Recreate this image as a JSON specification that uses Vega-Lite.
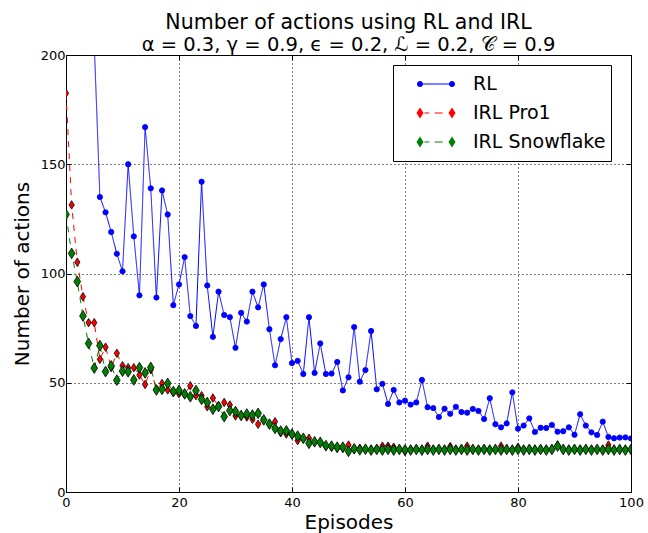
{
"$schema": "https://vega.github.io/schema/vega-lite/v6.json",
"width": 565, "height": 437,
"autosize": {"type": "none"},
"padding": {"left": 66, "top": 55, "right": 17, "bottom": 41},
"background": "white",
"config": {"font": "DejaVu Sans", "view": {"stroke": "black", "strokeWidth": 1}},
"title": {"text": "Number of actions using RL and IRL", "subtitle": "α = 0.3, γ = 0.9, ϵ = 0.2, ℒ = 0.2, 𝒞 = 0.9", "fontSize": 20.5, "subtitleFontSize": 19.5, "fontWeight": "normal", "color": "black", "subtitleColor": "black", "anchor": "middle", "offset": -5, "subtitlePadding": 2},
"data": {"values": [
{"e":0,"RL":600,"IRL Pro1":182.5,"IRL Snowflake":127},
{"e":1,"RL":500,"IRL Pro1":131.4,"IRL Snowflake":109.2},
{"e":2,"RL":420,"IRL Pro1":105.2,"IRL Snowflake":96.3},
{"e":3,"RL":350,"IRL Pro1":89.4,"IRL Snowflake":80.6},
{"e":4,"RL":280,"IRL Pro1":77.5,"IRL Snowflake":68},
{"e":5,"RL":205,"IRL Pro1":77.5,"IRL Snowflake":56.7},
{"e":6,"RL":135,"IRL Pro1":60.7,"IRL Snowflake":67},
{"e":7,"RL":128,"IRL Pro1":66.3,"IRL Snowflake":55.1},
{"e":8,"RL":119,"IRL Pro1":57,"IRL Snowflake":57.7},
{"e":9,"RL":109,"IRL Pro1":63.5,"IRL Snowflake":51.2},
{"e":10,"RL":101,"IRL Pro1":57.8,"IRL Snowflake":55.3},
{"e":11,"RL":150,"IRL Pro1":56.9,"IRL Snowflake":55},
{"e":12,"RL":117,"IRL Pro1":56.9,"IRL Snowflake":51.3},
{"e":13,"RL":90,"IRL Pro1":53.5,"IRL Snowflake":56.9},
{"e":14,"RL":167,"IRL Pro1":49.2,"IRL Snowflake":54.5},
{"e":15,"RL":139,"IRL Pro1":56,"IRL Snowflake":57},
{"e":16,"RL":89,"IRL Pro1":47,"IRL Snowflake":46.7},
{"e":17,"RL":138,"IRL Pro1":49.7,"IRL Snowflake":47},
{"e":18,"RL":127,"IRL Pro1":46.7,"IRL Snowflake":49.7},
{"e":19,"RL":85.5,"IRL Pro1":45.5,"IRL Snowflake":46},
{"e":20,"RL":95,"IRL Pro1":45,"IRL Snowflake":46.5},
{"e":21,"RL":107.5,"IRL Pro1":44.8,"IRL Snowflake":44.9},
{"e":22,"RL":80.5,"IRL Pro1":48.6,"IRL Snowflake":43.6},
{"e":23,"RL":76,"IRL Pro1":44.1,"IRL Snowflake":46.4},
{"e":24,"RL":142,"IRL Pro1":44.1,"IRL Snowflake":42.4},
{"e":25,"RL":94.5,"IRL Pro1":39,"IRL Snowflake":41},
{"e":26,"RL":71,"IRL Pro1":43,"IRL Snowflake":37.9},
{"e":27,"RL":91.7,"IRL Pro1":39.5,"IRL Snowflake":39.1},
{"e":28,"RL":81,"IRL Pro1":41,"IRL Snowflake":34.5},
{"e":29,"RL":80,"IRL Pro1":39.8,"IRL Snowflake":37.3},
{"e":30,"RL":66,"IRL Pro1":34.8,"IRL Snowflake":36.8},
{"e":31,"RL":82,"IRL Pro1":35,"IRL Snowflake":35},
{"e":32,"RL":78,"IRL Pro1":34.3,"IRL Snowflake":35.7},
{"e":33,"RL":91.7,"IRL Pro1":33.3,"IRL Snowflake":35.2},
{"e":34,"RL":84.5,"IRL Pro1":31,"IRL Snowflake":36},
{"e":35,"RL":95,"IRL Pro1":33,"IRL Snowflake":33},
{"e":36,"RL":74.5,"IRL Pro1":31,"IRL Snowflake":31.1},
{"e":37,"RL":58,"IRL Pro1":32.2,"IRL Snowflake":29.1},
{"e":38,"RL":70,"IRL Pro1":27.1,"IRL Snowflake":27.9},
{"e":39,"RL":80,"IRL Pro1":26.5,"IRL Snowflake":28},
{"e":40,"RL":59,"IRL Pro1":26.3,"IRL Snowflake":26.5},
{"e":41,"RL":60,"IRL Pro1":23.5,"IRL Snowflake":25.6},
{"e":42,"RL":54,"IRL Pro1":24.3,"IRL Snowflake":24.6},
{"e":43,"RL":80,"IRL Pro1":24.6,"IRL Snowflake":22.3},
{"e":44,"RL":54.5,"IRL Pro1":22.8,"IRL Snowflake":23},
{"e":45,"RL":68,"IRL Pro1":22.5,"IRL Snowflake":22.7},
{"e":46,"RL":54,"IRL Pro1":21,"IRL Snowflake":21.2},
{"e":47,"RL":54.2,"IRL Pro1":20.5,"IRL Snowflake":21},
{"e":48,"RL":59.5,"IRL Pro1":20,"IRL Snowflake":20.5},
{"e":49,"RL":46.5,"IRL Pro1":20,"IRL Snowflake":20.5},
{"e":50,"RL":52.5,"IRL Pro1":21.5,"IRL Snowflake":18.6},
{"e":51,"RL":75.5,"IRL Pro1":19.5,"IRL Snowflake":19.8},
{"e":52,"RL":50.5,"IRL Pro1":20,"IRL Snowflake":19.3},
{"e":53,"RL":55.8,"IRL Pro1":19.5,"IRL Snowflake":19.6},
{"e":54,"RL":73.7,"IRL Pro1":19.5,"IRL Snowflake":19.2},
{"e":55,"RL":47,"IRL Pro1":19.8,"IRL Snowflake":19.5},
{"e":56,"RL":49.5,"IRL Pro1":21,"IRL Snowflake":19.2},
{"e":57,"RL":40.3,"IRL Pro1":21,"IRL Snowflake":19.5},
{"e":58,"RL":46.7,"IRL Pro1":20.5,"IRL Snowflake":19.2},
{"e":59,"RL":41,"IRL Pro1":19.5,"IRL Snowflake":19.5},
{"e":60,"RL":41.8,"IRL Pro1":18.6,"IRL Snowflake":19.3},
{"e":61,"RL":40,"IRL Pro1":19.5,"IRL Snowflake":19.2},
{"e":62,"RL":41,"IRL Pro1":19.5,"IRL Snowflake":19.5},
{"e":63,"RL":51.3,"IRL Pro1":19.5,"IRL Snowflake":19.2},
{"e":64,"RL":38.8,"IRL Pro1":21,"IRL Snowflake":19.5},
{"e":65,"RL":38.4,"IRL Pro1":19.5,"IRL Snowflake":19.2},
{"e":66,"RL":34.3,"IRL Pro1":19.5,"IRL Snowflake":19.5},
{"e":67,"RL":38.1,"IRL Pro1":19.5,"IRL Snowflake":19.2},
{"e":68,"RL":35.8,"IRL Pro1":20.8,"IRL Snowflake":19.5},
{"e":69,"RL":39,"IRL Pro1":19.5,"IRL Snowflake":19.2},
{"e":70,"RL":36.6,"IRL Pro1":19.5,"IRL Snowflake":19.5},
{"e":71,"RL":36.3,"IRL Pro1":21,"IRL Snowflake":19.2},
{"e":72,"RL":38,"IRL Pro1":19.5,"IRL Snowflake":19.5},
{"e":73,"RL":37.1,"IRL Pro1":19.5,"IRL Snowflake":19.2},
{"e":74,"RL":33.4,"IRL Pro1":19.5,"IRL Snowflake":19.5},
{"e":75,"RL":42.9,"IRL Pro1":19.5,"IRL Snowflake":19.2},
{"e":76,"RL":31,"IRL Pro1":19.5,"IRL Snowflake":19.5},
{"e":77,"RL":29.6,"IRL Pro1":21,"IRL Snowflake":19.2},
{"e":78,"RL":31.4,"IRL Pro1":19.5,"IRL Snowflake":19.5},
{"e":79,"RL":45.6,"IRL Pro1":19.5,"IRL Snowflake":19.2},
{"e":80,"RL":29,"IRL Pro1":20.5,"IRL Snowflake":19.5},
{"e":81,"RL":30.4,"IRL Pro1":19.5,"IRL Snowflake":19.2},
{"e":82,"RL":33.7,"IRL Pro1":19.5,"IRL Snowflake":19.5},
{"e":83,"RL":27.5,"IRL Pro1":19.5,"IRL Snowflake":19.2},
{"e":84,"RL":29.4,"IRL Pro1":19.5,"IRL Snowflake":19.5},
{"e":85,"RL":29.3,"IRL Pro1":19.5,"IRL Snowflake":19.2},
{"e":86,"RL":30.7,"IRL Pro1":19.5,"IRL Snowflake":19.5},
{"e":87,"RL":27.6,"IRL Pro1":21.5,"IRL Snowflake":21},
{"e":88,"RL":27.8,"IRL Pro1":19.5,"IRL Snowflake":19.5},
{"e":89,"RL":29.6,"IRL Pro1":19.5,"IRL Snowflake":19.2},
{"e":90,"RL":26.2,"IRL Pro1":19.5,"IRL Snowflake":19.5},
{"e":91,"RL":35.6,"IRL Pro1":19.5,"IRL Snowflake":19.2},
{"e":92,"RL":30.4,"IRL Pro1":19.5,"IRL Snowflake":19.5},
{"e":93,"RL":27.3,"IRL Pro1":19.5,"IRL Snowflake":19.2},
{"e":94,"RL":26.1,"IRL Pro1":19.5,"IRL Snowflake":19.5},
{"e":95,"RL":32.2,"IRL Pro1":19.5,"IRL Snowflake":19.2},
{"e":96,"RL":25.2,"IRL Pro1":21.5,"IRL Snowflake":19.5},
{"e":97,"RL":24.6,"IRL Pro1":19.5,"IRL Snowflake":19.2},
{"e":98,"RL":24.9,"IRL Pro1":19.5,"IRL Snowflake":19.5},
{"e":99,"RL":25,"IRL Pro1":19.5,"IRL Snowflake":19.2},
{"e":100,"RL":24.5,"IRL Pro1":19.5,"IRL Snowflake":19.5}
]},
"transform": [{"fold": ["RL", "IRL Pro1", "IRL Snowflake"], "as": ["series", "v"]}],
"resolve": {"axis": {"x": "independent", "y": "independent"}, "scale": {"shape": "independent"}, "legend": {"color": "independent", "shape": "independent", "strokeDash": "independent"}},
"layer": [
{"mark": {"type": "line", "strokeWidth": 1, "clip": true},
 "encoding": {
  "x": {"field": "e", "type": "quantitative", "scale": {"domain": [0, 100], "nice": false},
        "axis": {"orient": "bottom", "values": [0, 20, 40, 60, 80, 100], "title": "Episodes", "titleFontSize": 20, "titleFontWeight": "normal", "titleColor": "black", "labelFontSize": 13, "labelColor": "black", "tickSize": -5, "tickColor": "black", "domain": false, "grid": true, "gridColor": "black", "gridDash": [1, 3], "gridOpacity": 1, "labelPadding": 9, "titlePadding": 3, "labelFlush": false}},
  "y": {"field": "v", "type": "quantitative", "scale": {"domain": [0, 200], "nice": false},
        "axis": {"orient": "left", "values": [0, 50, 100, 150, 200], "title": "Number of actions", "titleFontSize": 20, "titleFontWeight": "normal", "titleColor": "black", "labelFontSize": 13, "labelColor": "black", "tickSize": -5, "tickColor": "black", "domain": false, "grid": true, "gridColor": "black", "gridDash": [1, 3], "gridOpacity": 1, "labelPadding": 6, "titlePadding": 8, "labelFlush": false}},
  "color": {"field": "series", "type": "nominal", "scale": {"domain": ["RL", "IRL Pro1", "IRL Snowflake"], "range": ["#0000ff", "#ff0000", "#008000"]}, "legend": null},
  "strokeDash": {"field": "series", "type": "nominal", "scale": {"domain": ["RL", "IRL Pro1", "IRL Snowflake"], "range": [[1, 0], [6, 6], [6, 6]]}, "legend": null}
 }},
{"mark": {"type": "point", "filled": true, "clip": true, "strokeWidth": 0.8, "opacity": 1},
 "encoding": {
  "x": {"field": "e", "type": "quantitative", "axis": null},
  "y": {"field": "v", "type": "quantitative", "axis": null},
  "fill": {"field": "series", "type": "nominal", "scale": {"domain": ["RL", "IRL Pro1", "IRL Snowflake"], "range": ["#0000ff", "#ff0000", "#008000"]}, "legend": null},
  "stroke": {"field": "series", "type": "nominal", "scale": {"domain": ["RL", "IRL Pro1", "IRL Snowflake"], "range": ["#0000ff", "#000000", "#000000"]}, "legend": null},
  "shape": {"field": "series", "type": "nominal", "scale": {"domain": ["RL", "IRL Pro1", "IRL Snowflake"], "range": ["circle", "M0,-1L0.62,0L0,1L-0.62,0Z", "M0,-1L0.62,0L0,1L-0.62,0Z"]}, "legend": null},
  "size": {"field": "series", "type": "nominal", "scale": {"domain": ["RL", "IRL Pro1", "IRL Snowflake"], "range": [28, 115, 115]}, "legend": null},
  "order": {"field": "series", "sort": "ascending"}
 }},
{"mark": {"type": "point", "opacity": 0, "clip": true},
 "encoding": {
  "x": {"field": "e", "type": "quantitative", "axis": {"orient": "top", "values": [0, 20, 40, 60, 80, 100], "labels": false, "title": null, "tickSize": -5, "tickColor": "black", "domain": false, "grid": false}},
  "y": {"field": "v", "type": "quantitative", "axis": {"orient": "right", "values": [0, 50, 100, 150, 200], "labels": false, "title": null, "tickSize": -5, "tickColor": "black", "domain": false, "grid": false}}
 }},
{"transform": [{"filter": "datum.e < 0"}],
 "mark": {"type": "point", "filled": true},
 "encoding": {
  "x": {"field": "e", "type": "quantitative", "axis": null},
  "y": {"field": "v", "type": "quantitative", "axis": null},
  "color": {"field": "series", "type": "nominal", "scale": {"domain": ["RL", "IRL Pro1", "IRL Snowflake"], "range": ["#0000ff", "#ff0000", "#008000"]},
            "legend": {"title": null, "orient": "none", "legendX": 327, "legendY": 10, "labelFontSize": 19, "labelColor": "black", "symbolSize": 1024, "symbolStrokeWidth": 0, "symbolOpacity": 1, "symbolOffset": 22, "labelOffset": 21, "padding": 5, "rowPadding": 1, "clipHeight": 28, "strokeColor": "black", "fillColor": "white", "cornerRadius": 0}},
  "shape": {"field": "series", "type": "nominal", "scale": {"domain": ["RL", "IRL Pro1", "IRL Snowflake"], "range": [
     "M-1.19,0A0.19,0.19 0 1,0 -0.81,0A0.19,0.19 0 1,0 -1.19,0ZM0.81,0A0.19,0.19 0 1,0 1.19,0A0.19,0.19 0 1,0 0.81,0ZM-0.81,-0.035L0.81,-0.035L0.81,0.035L-0.81,0.035Z",
     "M-1,-0.34L-0.78,0L-1,0.34L-1.22,0ZM1,-0.34L1.22,0L1,0.34L0.78,0ZM-0.72,-0.035L-0.42,-0.035L-0.42,0.035L-0.72,0.035ZM-0.08,-0.035L0.42,-0.035L0.42,0.035L-0.08,0.035Z",
     "M-1,-0.34L-0.78,0L-1,0.34L-1.22,0ZM1,-0.34L1.22,0L1,0.34L0.78,0ZM-0.72,-0.035L-0.42,-0.035L-0.42,0.035L-0.72,0.035ZM-0.08,-0.035L0.42,-0.035L0.42,0.035L-0.08,0.035Z"]},
            "legend": {"title": null, "orient": "none", "legendX": 327, "legendY": 10, "labelFontSize": 19, "labelColor": "black", "symbolSize": 1024, "symbolStrokeWidth": 0, "symbolOpacity": 1, "symbolOffset": 22, "labelOffset": 21, "padding": 5, "rowPadding": 1, "clipHeight": 28, "strokeColor": "black", "fillColor": "white", "cornerRadius": 0}}
 }}
]
}
